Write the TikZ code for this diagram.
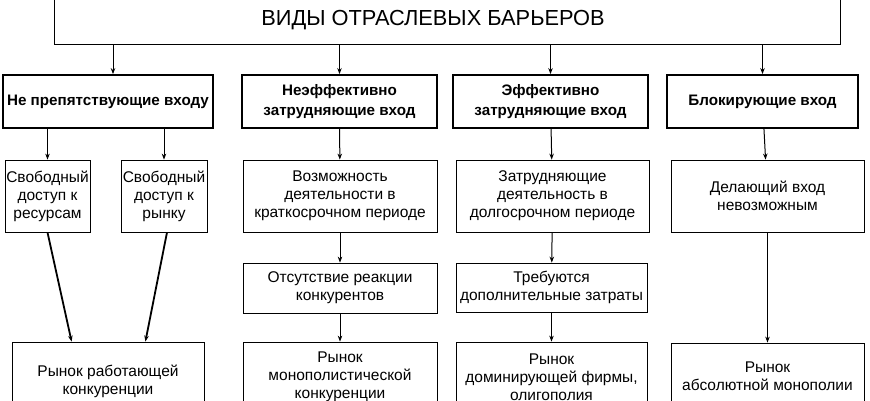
\documentclass[tikz,border=0pt]{standalone}
\usepackage{fontspec}
\setmainfont{Liberation Sans}
\usetikzlibrary{arrows.meta}

\begin{document}
\begin{tikzpicture}[x=1pt, y=-1pt,
  >={Stealth[length=6pt, width=4.5pt]},
  box/.style={rectangle, draw, line width=0.8pt, align=center, inner sep=1pt,
    font=\fontsize{15.5}{18}\selectfont},
  head/.style={rectangle, draw, line width=1.8pt, align=center, inner sep=1pt,
    minimum height=53pt, font=\fontsize{15.2}{19.5}\selectfont\bfseries},
  link/.style={line width=1pt},
  heavy/.style={line width=1.8pt}]

\useasboundingbox (0,0) rectangle (870,400);
\clip (0,0) rectangle (870,400);

\node (top)[box, minimum width=786pt, minimum height=48pt,
  font=\fontsize{21.8}{24}\selectfont] at (447, 20) {\hspace*{-28pt}ВИДЫ ОТРАСЛЕВЫХ БАРЬЕРОВ};

% kinds of barriers
\node (h1)[head, minimum width=210pt] at (108, 101.5) {Не препятствующие входу};
\node (h2)[head, minimum width=195pt] at (339.5, 101.5) {Неэффективно\\затрудняющие вход};
\node (h3)[head, minimum width=195pt] at (550.5, 101.5) {Эффективно\\затрудняющие вход};
\node (h4)[head, minimum width=191pt] at (762.5, 101.5) {Блокирующие вход};

\node (a)[box, minimum width=85pt, minimum height=72pt] at (47.5, 196) {Свободный\\доступ к\\ресурсам};
\node (b)[box, minimum width=86pt, minimum height=72pt] at (164, 196) {Свободный\\доступ к\\рынку};
\node (c)[box, minimum width=194pt, minimum height=72pt] at (340, 196) {Возможность\\деятельности в\\краткосрочном периоде};
\node (d)[box, minimum width=193pt, minimum height=72pt] at (552.5, 196) {Затрудняющие\\деятельность в\\долгосрочном периоде};
\node (e)[box, minimum width=193pt, minimum height=72pt] at (767.5, 196) {Делающий вход\\невозможным};

\node (c2)[box, minimum width=194pt, minimum height=50pt] at (340, 288) {Отсутствие реакции\\конкурентов};
\node (d2)[box, minimum width=191pt, minimum height=49pt] at (551.5, 287.5) {Требуются\\дополнительные затраты};

% market types
\node (f)[box, minimum width=192pt, minimum height=78pt] at (108, 381) {Рынок работающей\\конкуренции};
\node (c3)[box, minimum width=194pt, minimum height=70pt] at (340, 377) {Рынок\\монополистической\\конкуренции};
\node (d3)[box, minimum width=191pt, minimum height=70pt] at (551.5, 377) {Рынок\\доминирующей фирмы,\\олигополия};
\node (e3)[box, minimum width=193pt, minimum height=67pt] at (767.5, 376.5) {Рынок\\абсолютной монополии};

\draw[->, link] ([xshift=5pt]top.south -| h1) -- ([xshift=5pt]h1.north);
\draw[->, link] (top.south -| h2) -- (h2);
\draw[->, link] (top.south -| h3) -- (h3);
\draw[->, link] (top.south -| h4) -- (h4);

\draw[->, link] (h1.south -| a) -- (a);
\draw[->, link] (h1.south -| b) -- (b);
\draw[->, link] (h2) -- (c);
\draw[->, link] (h3) -- (d);
\draw[->, link] (h4) -- (e);

\draw[->, link] (c) -- (c2);
\draw[->, link] (d) -- (d2);
\draw[->, link] (c2) -- (c3);
\draw[->, link] (d2) -- (d3);

\draw[->, heavy] (a.south) -- ([xshift=60pt]f.north west);
\draw[->, heavy] ([xshift=3pt]b.south) -- ([xshift=-59pt]f.north east);
\draw[->, heavy] (e) -- (e3);

\end{tikzpicture}
\end{document}
